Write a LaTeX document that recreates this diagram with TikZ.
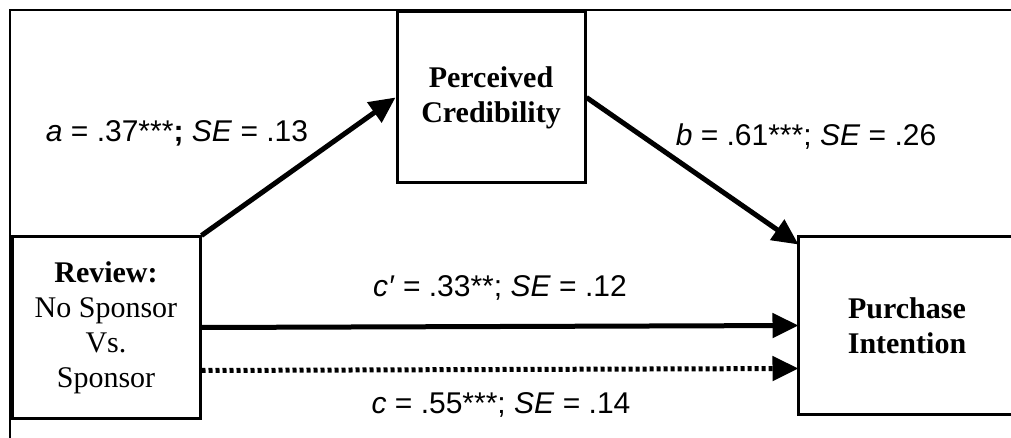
\documentclass[tikz,border=0pt]{standalone}
\usepackage{fontspec}
\setmainfont{Liberation Serif}
\newfontfamily\lblfont{Liberation Sans}
\usetikzlibrary{arrows.meta}
\begin{document}
\begin{tikzpicture}[x=1pt,y=-1pt,
  boxnode/.style={draw,line width=3pt,inner sep=0pt,align=center,font=\fontsize{30}{35}\selectfont},
  lbl/.style={font=\lblfont\fontsize{30}{36}\selectfont,inner sep=0pt},
  arr/.style={line width=5pt,-{Triangle[length=26pt,width=24pt]}},
]
\useasboundingbox (0,0) rectangle (1011,438);
\clip (0,0) rectangle (1011,438);
\draw[line width=2pt] (10,440) -- (10,10) -- (1020,10);
\node[boxnode,minimum width=188pt,minimum height=171pt] (pc) at (491,97.5) {\textbf{Perceived}\\\textbf{Credibility}};
\node[boxnode,minimum width=188pt,minimum height=181pt] (rv) at (106,327.5) {\textbf{Review:}\\No Sponsor\\Vs.\\Sponsor};
\node[boxnode,draw=none,minimum width=214pt,minimum height=175pt] (pi) at (907,325.5) {\textbf{Purchase}\\\textbf{Intention}};
\draw[line width=3pt] ([xshift=10pt]pi.north east) -- (pi.north west) -- (pi.south west) -- ([xshift=10pt]pi.south east);
\draw[arr] (rv.north east) -- (pc.west);
\draw[arr] (pc.east) -- ([yshift=-8pt]pi.north west);
\draw[arr] (rv.east) -- (pi.west);
\draw[arr,dash pattern=on 4pt off 3pt] ([yshift=-43pt]rv.east) -- ([yshift=-43pt]pi.west);
\node[lbl] (la) at (177,133) {\textit{a} = .37***\textbf{;} \textit{SE} = .13};
\node[lbl] (lb) at (806,137) {\textit{b} = .61***; \textit{SE} = .26};
\node[lbl] (lc1) at (500,288) {\textit{c′} = .33**; \textit{SE} = .12};
\node[lbl] (lc) at (501,405) {\textit{c} = .55***; \textit{SE} = .14};
\end{tikzpicture}
\end{document}
